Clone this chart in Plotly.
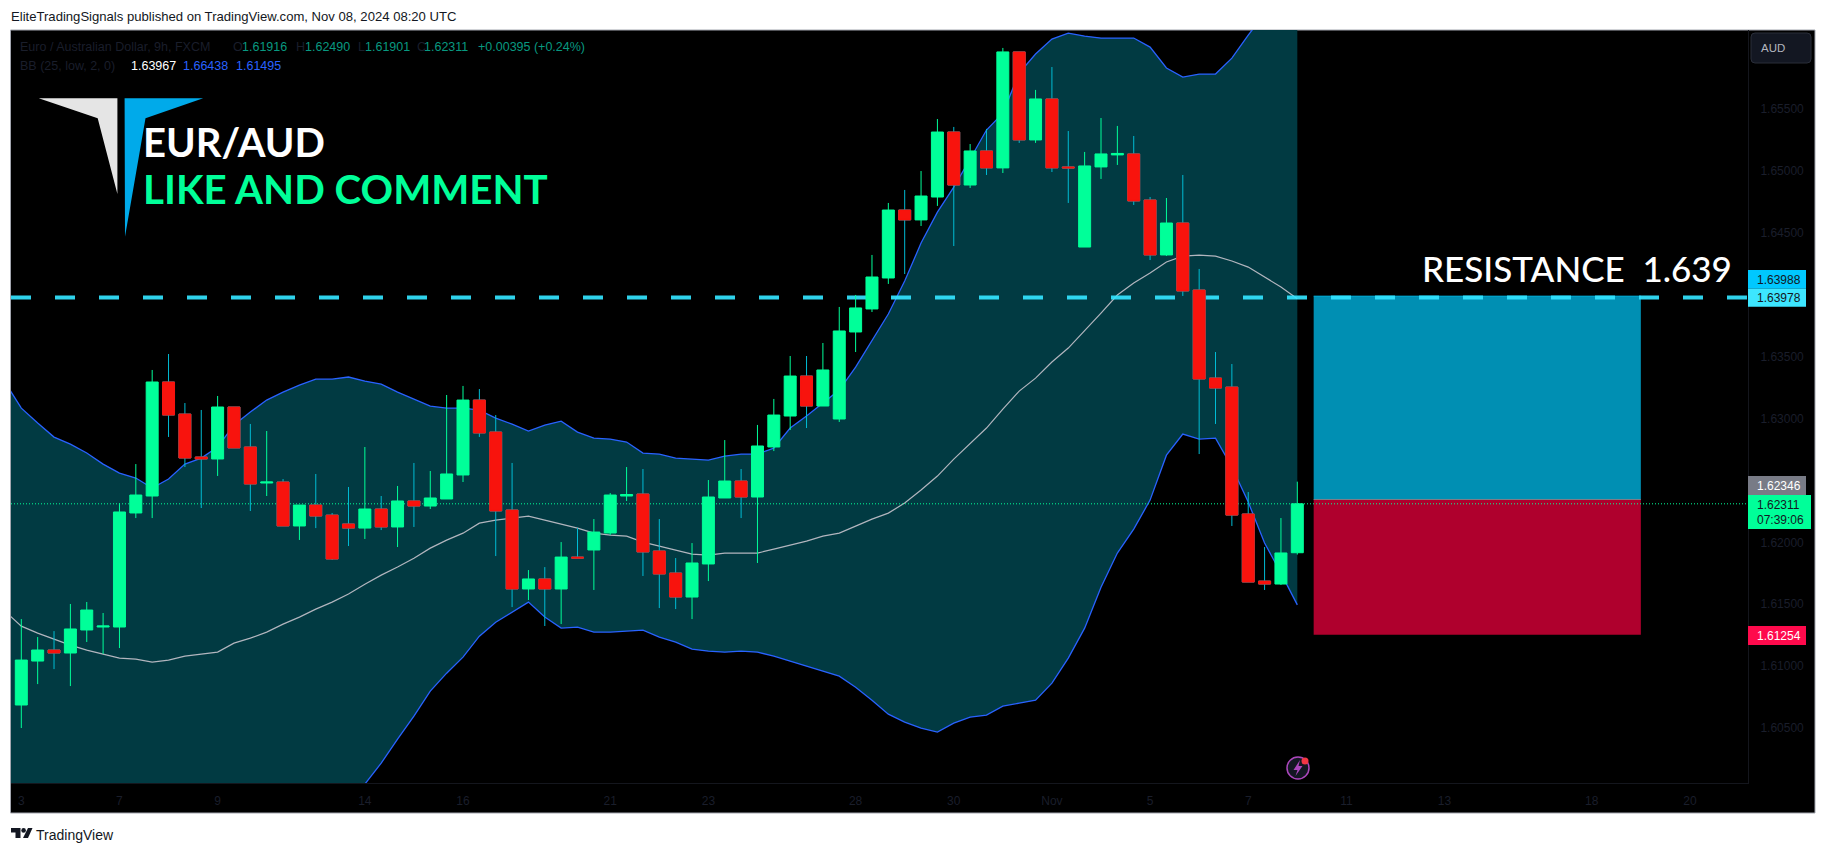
import plotly.graph_objects as go

# ---------- data ----------
bar_index = list(range(79))
opens = [1.60686,1.61041,1.61130,1.61106,1.61292,1.61316,1.61316,1.62237,1.62374,1.63295,
         1.63036,1.62689,1.62673,1.63093,1.62770,1.62479,1.62487,1.62132,1.62301,1.62220,
         1.62148,1.62115,1.62269,1.62124,1.62334,1.62293,1.62350,1.62544,1.63149,1.62891,
         1.62261,1.61623,1.61704,1.61623,1.61881,1.61938,1.62075,1.62374,1.62390,1.61930,
         1.61752,1.61558,1.61825,1.62358,1.62495,1.62366,1.62770,1.63020,1.63343,1.63101,
         1.62996,1.63699,1.63885,1.64135,1.64684,1.64604,1.64789,1.65314,1.64886,1.65161,
         1.65024,1.65961,1.65250,1.65581,1.65032,1.64385,1.65032,1.65129,1.65137,1.64765,
         1.64321,1.64579,1.64038,1.63327,1.63254,1.62229,1.61687,1.61663,1.61916]
highs = [1.61380,1.61235,1.61283,1.61502,1.61518,1.61429,1.62317,1.62632,1.63392,1.63521,
         1.63125,1.63069,1.63182,1.63093,1.62956,1.62899,1.62511,1.62301,1.62552,1.62237,
         1.62447,1.62770,1.62374,1.62455,1.62641,1.62576,1.63190,1.63263,1.63238,1.63028,
         1.62641,1.61776,1.61800,1.62002,1.62115,1.62188,1.62398,1.62608,1.62592,1.62188,
         1.61873,1.61994,1.62503,1.62826,1.62592,1.62948,1.63158,1.63505,1.63505,1.63610,
         1.63901,1.63998,1.64321,1.64741,1.64846,1.64999,1.65419,1.65355,1.65217,1.65339,
         1.65993,1.65961,1.65654,1.65839,1.65322,1.65153,1.65427,1.65363,1.65282,1.64789,
         1.64781,1.64967,1.64208,1.63537,1.63440,1.62406,1.61962,1.62196,1.62490]
lows = [1.60500,1.60855,1.60976,1.60839,1.61195,1.61098,1.61146,1.62196,1.62196,1.62851,
        1.62608,1.62277,1.62536,1.62762,1.62253,1.62374,1.62132,1.62019,1.62115,1.61857,
        1.61970,1.62027,1.62099,1.61962,1.62124,1.62269,1.62350,1.62487,1.62851,1.61889,
        1.61477,1.61534,1.61324,1.61340,1.61873,1.61615,1.62059,1.62334,1.61728,1.61469,
        1.61461,1.61380,1.61687,1.62358,1.62196,1.61833,1.62737,1.62907,1.62923,1.63101,
        1.62972,1.63537,1.63860,1.64087,1.64167,1.64555,1.64717,1.64393,1.64862,1.64967,
        1.64983,1.65226,1.65226,1.64991,1.64741,1.64385,1.64935,1.65048,1.64725,1.64280,
        1.64313,1.63990,1.62713,1.62956,1.62132,1.61679,1.61615,1.61655,1.61901]
closes = [1.61049,1.61130,1.61106,1.61300,1.61453,1.61324,1.62245,1.62382,1.63295,1.63028,
          1.62681,1.62673,1.63093,1.62762,1.62471,1.62487,1.62132,1.62301,1.62212,1.61865,
          1.62115,1.62269,1.62124,1.62334,1.62293,1.62358,1.62552,1.63149,1.62883,1.62253,
          1.61623,1.61704,1.61623,1.61881,1.61873,1.62083,1.62382,1.62386,1.61922,1.61744,
          1.61558,1.61833,1.62366,1.62495,1.62366,1.62778,1.63028,1.63343,1.63101,1.63392,
          1.63707,1.63893,1.64143,1.64684,1.64604,1.64797,1.65314,1.64886,1.65161,1.65024,
          1.65961,1.65250,1.65581,1.65024,1.65024,1.65040,1.65137,1.65141,1.64757,1.64321,
          1.64579,1.64030,1.63319,1.63246,1.62220,1.61679,1.61663,1.61914,1.62311]

band_index = list(range(-1, 79))
bb_upper = [1.63294,1.63084,1.62963,1.62850,1.62793,1.62721,1.62632,1.62559,1.62519,1.62438,
            1.62511,1.62632,1.62680,1.62769,1.62947,1.63052,1.63149,1.63213,1.63270,1.63318,
            1.63318,1.63335,1.63302,1.63278,1.63213,1.63157,1.63100,1.63084,1.63084,1.63068,
            1.63003,1.62955,1.62898,1.62947,1.62979,1.62890,1.62842,1.62834,1.62810,1.62721,
            1.62713,1.62680,1.62672,1.62664,1.62696,1.62713,1.62713,1.62761,1.62923,1.63020,
            1.63125,1.63230,1.63415,1.63633,1.63844,1.64110,1.64417,1.64667,1.64869,1.65096,
            1.65330,1.65467,1.65790,1.65944,1.66065,1.66113,1.66089,1.66073,1.66073,1.66073,
            1.66000,1.65831,1.65758,1.65782,1.65782,1.65911,1.66097,1.66267,1.66356,1.66438]
bb_lower = [1.58700,1.58800,1.58900,1.59000,1.59100,1.59200,1.59300,1.59400,1.59450,1.59500,
            1.59500,1.59500,1.59500,1.59500,1.59500,1.59500,1.59520,1.59550,1.59600,1.59650,
            1.59720,1.59850,1.60047,1.60217,1.60410,1.60596,1.60798,1.60943,1.61073,1.61242,
            1.61355,1.61436,1.61517,1.61396,1.61307,1.61315,1.61275,1.61275,1.61283,1.61291,
            1.61234,1.61194,1.61137,1.61121,1.61113,1.61121,1.61113,1.61081,1.61040,1.61000,
            1.60960,1.60919,1.60830,1.60725,1.60612,1.60548,1.60499,1.60467,1.60540,1.60588,
            1.60604,1.60677,1.60701,1.60725,1.60863,1.61065,1.61307,1.61638,1.61913,1.62107,
            1.62341,1.62704,1.62874,1.62834,1.62842,1.62608,1.62325,1.61994,1.61751,1.61495]
bb_basis = [1.61444,1.61323,1.61267,1.61218,1.61170,1.61129,1.61097,1.61065,1.61057,1.61032,
            1.61048,1.61081,1.61097,1.61113,1.61186,1.61226,1.61275,1.61339,1.61396,1.61460,
            1.61517,1.61582,1.61662,1.61735,1.61800,1.61872,1.61953,1.62018,1.62074,1.62155,
            1.62179,1.62196,1.62212,1.62179,1.62147,1.62115,1.62074,1.62058,1.62050,1.62002,
            1.61969,1.61937,1.61905,1.61897,1.61913,1.61913,1.61913,1.61945,1.61977,1.62010,
            1.62050,1.62074,1.62131,1.62187,1.62236,1.62317,1.62422,1.62535,1.62672,1.62801,
            1.62923,1.63076,1.63221,1.63326,1.63456,1.63569,1.63706,1.63851,1.63997,1.64094,
            1.64175,1.64264,1.64312,1.64320,1.64312,1.64272,1.64223,1.64142,1.64062,1.63967]

date_ticks = [0, 6, 12, 21, 27, 36, 42, 51, 57, 63, 69, 75, 81, 87, 96, 102]
date_labels = ["3", "7", "9", "14", "16", "21", "23", "28", "30", "Nov", "5", "7", "11", "13", "18", "20"]
price_ticks = [1.605, 1.61, 1.615, 1.62, 1.63, 1.635, 1.645, 1.65, 1.655]
price_tick_labels = ["1.60500", "1.61000", "1.61500", "1.62000", "1.63000",
                     "1.63500", "1.64500", "1.65000", "1.65500"]

resistance = 1.63978
last_close = 1.62311
target_price = 1.63988
entry_price = 1.62346
stop_price = 1.61254
box_start, box_end = 79, 99

X_RANGE = [-0.63, 105.55]
Y_RANGE = [1.60056, 1.66138]

# ---------- page geometry helpers (decoration only) ----------
W, H = 1826, 853
ML, MR, MT, MB = 11, 78, 30, 70
PW, PH = W - ML - MR, H - MT - MB
def px(x): return (x - ML) / PW
def py(y): return (H - MB - y) / PH

UP = "#00FF99"
DOWN = "#F8130D"
WICK_DOWN = "#00BCD4"
BLUE = "#2962FF"
FILL = "#013A42"
FAINT = "#1A1E2B"
DARK = "#131722"

fig = go.Figure()

# bands on the base subplot
fig.add_trace(go.Scatter(x=band_index, y=bb_lower, mode="lines", line=dict(color=BLUE, width=1.3),
                         hoverinfo="skip", showlegend=False))
fig.add_trace(go.Scatter(x=band_index, y=bb_upper, mode="lines", line=dict(color=BLUE, width=1.3),
                         fill="tonexty", fillcolor=FILL, hoverinfo="skip", showlegend=False))
fig.add_trace(go.Scatter(x=band_index, y=bb_basis, mode="lines", line=dict(color="#B2B5BE", width=1.2),
                         hoverinfo="skip", showlegend=False))
# levels
fig.add_trace(go.Scatter(x=X_RANGE, y=[resistance, resistance], mode="lines",
                         line=dict(color="#33E4FF", width=4, dash="20px,24px"),
                         opacity=0.92, hoverinfo="skip", showlegend=False))
fig.add_trace(go.Scatter(x=X_RANGE, y=[last_close, last_close], mode="lines",
                         line=dict(color=UP, width=1, dash="1px,2px"),
                         hoverinfo="skip", showlegend=False))

# candles on an overlaying subplot, so they sit above the scatter layer
fig.add_trace(go.Candlestick(
    x=bar_index, open=opens, high=highs, low=lows, close=closes,
    xaxis="x2", yaxis="y2",
    increasing=dict(line=dict(color=UP, width=1), fillcolor=UP),
    decreasing=dict(line=dict(color=WICK_DOWN, width=1), fillcolor=DOWN),
    hoverinfo="skip", showlegend=False))
down = [i for i in bar_index if closes[i] < opens[i]]
fig.add_trace(go.Candlestick(
    x=down, open=[opens[i] for i in down], close=[closes[i] for i in down],
    high=[opens[i] for i in down], low=[closes[i] for i in down],
    xaxis="x2", yaxis="y2",
    decreasing=dict(line=dict(color=DOWN, width=1), fillcolor=DOWN),
    hoverinfo="skip", showlegend=False))

shapes = []
def prect(x0, y0, x1, y1, fill, line=None, lw=0, layer="above"):
    shapes.append(dict(type="rect", xref="paper", yref="paper", x0=px(x0), x1=px(x1), y0=py(y0), y1=py(y1),
                       fillcolor=fill, line=dict(color=line or fill, width=lw), layer=layer))
def ppath(points, fill, line=None, lw=0, layer="above"):
    d = "M " + " L ".join(f"{px(a):.5f},{py(b):.5f}" for a, b in points) + " Z"
    shapes.append(dict(type="path", xref="paper", yref="paper", path=d, fillcolor=fill,
                       line=dict(color=line or fill, width=lw), layer=layer))
def pcircle(cx, cy, r, fill, line=None, lw=0):
    shapes.append(dict(type="circle", xref="paper", yref="paper", x0=px(cx - r), x1=px(cx + r),
                       y0=py(cy + r), y1=py(cy - r), fillcolor=fill,
                       line=dict(color=line or fill, width=lw), layer="above"))

# pane background and frame
prect(10.5, 30, 1815, 813, "#000000", line="#A3A6AF", lw=1, layer="below")

# position box (below the traces)
shapes.append(dict(type="rect", xref="x", yref="y", x0=box_start, x1=box_end, y0=entry_price, y1=target_price,
                   fillcolor="#008FB3", line=dict(width=0), layer="below"))
shapes.append(dict(type="rect", xref="x", yref="y", x0=box_start, x1=box_end, y0=stop_price, y1=entry_price,
                   fillcolor="#AF002D", line=dict(width=0), layer="below"))
shapes.append(dict(type="line", xref="x", yref="y", x0=box_start, x1=box_end, y0=target_price, y1=target_price,
                   line=dict(color="#00B8E6", width=1), layer="below"))
shapes.append(dict(type="line", xref="x", yref="y", x0=box_start, x1=box_end, y0=entry_price, y1=entry_price,
                   line=dict(color="#80808A", width=1), layer="below"))

# logo
ppath([(38.7, 98.3), (117.4, 98.3), (117.4, 194), (97.7, 118.3)], "#E5E5E5")
ppath([(124.6, 98.3), (203.2, 98.3), (145.5, 118.3), (125, 236.7)], "#00AAEA")

# price-axis tags
prect(1748, 270, 1806, 288.7, "#00C8FF")
prect(1748, 288.7, 1806, 306.7, "#3DE6FF")
prect(1748, 476, 1806, 495, "#787B86")
prect(1748, 495, 1811, 529, UP)
prect(1748, 626, 1806, 645, "#FF0A4C")
# currency button
ax0, ax1, ay0, ay1, rr = 1751, 1811, 33, 63, 4
shapes.append(dict(type="path", xref="paper", yref="paper",
    path=(f"M {px(ax0+rr)},{py(ay0)} L {px(ax1-rr)},{py(ay0)} Q {px(ax1)},{py(ay0)} {px(ax1)},{py(ay0+rr)} "
          f"L {px(ax1)},{py(ay1-rr)} Q {px(ax1)},{py(ay1)} {px(ax1-rr)},{py(ay1)} "
          f"L {px(ax0+rr)},{py(ay1)} Q {px(ax0)},{py(ay1)} {px(ax0)},{py(ay1-rr)} "
          f"L {px(ax0)},{py(ay0+rr)} Q {px(ax0)},{py(ay0)} {px(ax0+rr)},{py(ay0)} Z"),
    fillcolor="#131722", line=dict(color="#2A2E39", width=1), layer="above"))

# event icon
pcircle(1298, 768, 11, "#131722", line="#AB47BC", lw=1.5)
ppath([(1300, 760), (1293.5, 770), (1297.5, 770), (1295.5, 776), (1302.5, 766), (1298.5, 766)], "#AB47BC")
pcircle(1305, 761, 3.5, "#F23645")

# footer logo
ppath([(11, 828), (20.5, 828), (20.5, 838), (15.5, 838), (15.5, 832.5), (11, 832.5)], DARK)
pcircle(23.6, 830.4, 2.3, DARK)
ppath([(28, 828), (32.5, 828), (28, 838), (23, 838)], DARK)

annotations = []
def label(x, y, text, color, size=12.5, anchor="left", family="Liberation Sans", weight=None):
    f = dict(color=color, size=size, family=family)
    if weight:
        f["weight"] = weight
    annotations.append(dict(x=px(x), y=py(y), xref="paper", yref="paper", text=text, showarrow=False,
                            xanchor=anchor, yanchor="middle", font=f, borderpad=0, borderwidth=0))

label(11, 16.5, "EliteTradingSignals published on TradingView.com, Nov 08, 2024 08:20 UTC", DARK, 13.1)
label(20, 47, "Euro / Australian Dollar, 9h, FXCM", FAINT)
GV = "#089981"
for lx, t, vx, v in [(233, "O", 242, "1.61916"), (296, "H", 304.5, "1.62490"),
                     (358, "L", 364.6, "1.61901"), (417, "C", 424, "1.62311")]:
    label(lx, 47, t, FAINT)
    label(vx, 47, v, GV)
label(477.6, 47, "+0.00395 (+0.24%)", GV)
label(20, 66, "BB (25, low, 2, 0)", FAINT)
label(130.5, 66, "1.63967", "#FFFFFF")
label(183, 66, "1.66438", BLUE)
label(236, 66, "1.61495", BLUE)

label(143, 142, "EUR/AUD", "#FFFFFF", 40, family="Lato", weight=700)
label(143, 188.5, "LIKE AND COMMENT", UP, 40.3, family="Lato", weight=700)
label(1732, 267.5, "RESISTANCE  1.639", "#FFFFFF", 35, anchor="right", family="Lato", weight=500)

label(1757, 279.5, "1.63988", DARK, 12)
label(1757, 297.5, "1.63978", DARK, 12)
label(1757, 485.5, "1.62346", "#FFFFFF", 12)
label(1757, 504.5, "1.62311", DARK, 12)
label(1757, 520, "07:39:06", DARK, 12)
label(1757, 635.5, "1.61254", "#FFFFFF", 12)
label(1761, 48, "AUD", "#B2B5BE", 11.5)
label(35.5, 835, "TradingView", DARK, 14)

fig.update_layout(
    width=W, height=H, autosize=False,
    margin=dict(l=ML, r=MR, t=MT, b=MB, pad=0),
    paper_bgcolor="#FFFFFF", plot_bgcolor="rgba(0,0,0,0)",
    showlegend=False, boxmode="overlay", boxgap=0.267, boxgroupgap=0, hovermode=False,
    shapes=shapes, annotations=annotations,
    xaxis=dict(range=X_RANGE, tickmode="array", tickvals=date_ticks, ticktext=date_labels,
               tickfont=dict(color=FAINT, size=12, family="Liberation Sans"), showgrid=False, zeroline=False,
               ticks="", showline=True, linecolor="#14161D", linewidth=1, tickangle=0, ticklabelstandoff=7),
    yaxis=dict(range=Y_RANGE, side="right", tickmode="array", tickvals=price_ticks, ticktext=price_tick_labels,
               tickfont=dict(color=FAINT, size=12, family="Liberation Sans"), showgrid=False, zeroline=False,
               ticks="", showline=True, linecolor="#14161D", linewidth=1, ticklabelstandoff=9),
    xaxis2=dict(range=X_RANGE, overlaying="x", anchor="y2", visible=False, rangeslider=dict(visible=False),
                showgrid=False, zeroline=False),
    yaxis2=dict(range=Y_RANGE, overlaying="y", anchor="x2", visible=False, showgrid=False, zeroline=False),
)

fig.write_html("out.html", config={"displayModeBar": False, "responsive": False},
               post_script="document.body.style.margin='0';document.body.style.background='#fff';")
